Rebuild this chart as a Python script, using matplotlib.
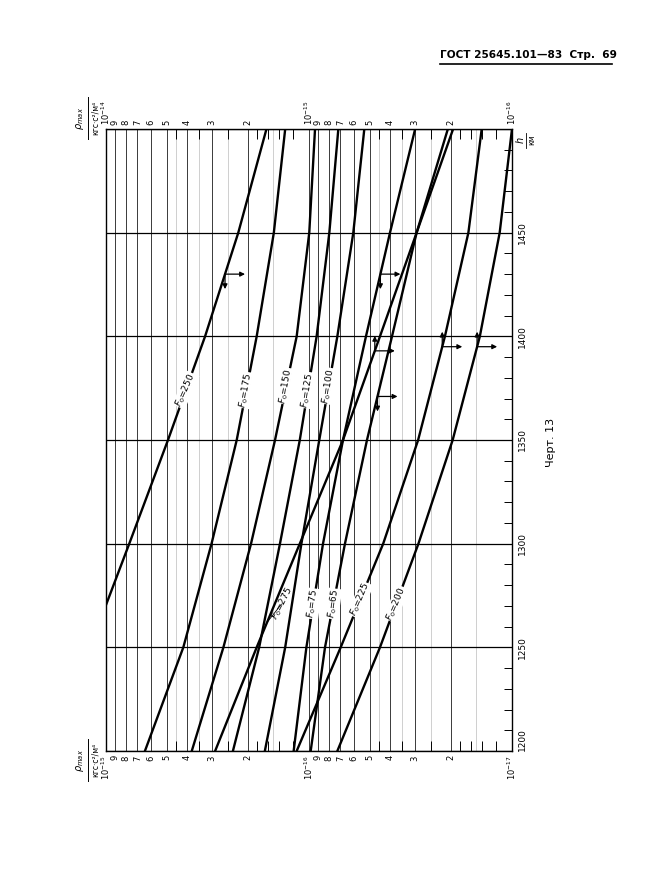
import numpy as np
import matplotlib
matplotlib.use('Agg')
import matplotlib.pyplot as plt
from matplotlib.ticker import FixedLocator, MultipleLocator, NullLocator, NullFormatter
from matplotlib.transforms import offset_copy
from matplotlib.lines import Line2D

plt.rcParams['font.family'] = ['DejaVu Sans']
plt.rcParams['mathtext.fontset'] = 'dejavusans'

# heights, km
h_km = [1200, 1250, 1300, 1350, 1400, 1450, 1500]

# rho_max read on the upper scale (10^-14 ... 10^-16), in units of 1e-15
rho_250 = [19.0, 12.0, 7.68, 4.95, 3.25, 2.23, 1.62]
rho_175 = [6.43, 4.16, 3.02, 2.27, 1.81, 1.49, 1.31]
rho_150 = [3.78, 2.64, 1.93, 1.47, 1.15, 0.997, 0.934]
rho_125 = [2.37, 1.76, 1.39, 1.11, 0.917, 0.794, 0.717]
rho_100 = [1.65, 1.31, 1.09, 0.890, 0.725, 0.605, 0.534]
rho_275 = [2.90, 1.81, 1.11, 0.680, 0.447, 0.295, 0.195]
rho_75 = [1.19, 1.03, 0.853, 0.680, 0.524, 0.399, 0.300]
rho_65 = [0.981, 0.834, 0.665, 0.518, 0.390, 0.295, 0.207]
rho_225 = [1.15, 0.698, 0.431, 0.290, 0.214, 0.164, 0.141]
rho_200 = [0.725, 0.447, 0.289, 0.196, 0.144, 0.115, 0.100]

f0_values = [250, 175, 150, 125, 100, 275, 75, 65, 225, 200]
rho_curves = [rho_250, rho_175, rho_150, rho_125, rho_100,
              rho_275, rho_75, rho_65, rho_225, rho_200]

# where the F0 labels sit on each curve (height) and their angle
label_h = [1374, 1374, 1376, 1374, 1376, 1262, 1271, 1271, 1273, 1271]
label_rot = [66, 80, 80, 81, 81, 63, 82, 82, 67, 67]

# scale-pointer arrows: curve, height, vertical direction (+1 up, -1 down)
arrow_f0 = [250, 75, 275, 65, 225, 200]
arrow_h = [1430, 1430, 1393, 1371, 1395, 1395]
arrow_vert = [-1, -1, 1, -1, 1, 1]

W, H = 651, 894


def px(x, y):
    return x / W, 1 - y / H


def on_curve(f0, h):
    rho = np.array(rho_curves[f0_values.index(f0)]) * 1e-15
    return 10 ** np.interp(h, h_km, np.log10(rho))


fig = plt.figure(figsize=(W / 100, H / 100), dpi=100)
ax = fig.add_axes([106 / W, 1 - 751 / H, 406 / W, 622 / H])

ax.set_xscale('log')
ax.set_xlim(1e-14, 1e-16)
ax.set_ylim(1200, 1500)

for f0, rho in zip(f0_values, rho_curves):
    ax.plot(np.array(rho) * 1e-15, h_km, color='black', lw=1.7, zorder=3)

# log scale ticks, two scales (upper and lower edge)
major_pos = [1e-14] + [m * 1e-15 for m in range(9, 1, -1)] + [1e-15] \
    + [m * 1e-16 for m in range(9, 1, -1)] + [1e-16]
digits = [str(m) for m in range(9, 1, -1)]
top_labels = ['$10^{-14}$'] + digits + ['$10^{-15}$'] + digits + ['$10^{-16}$']
bottom_labels = ['$10^{-15}$'] + digits + ['$10^{-16}$'] + digits + ['$10^{-17}$']

ax.set_xticks(major_pos, bottom_labels)
ax.tick_params(axis='x', which='major', length=0, labelsize=6, rotation=90, pad=3)
minor_pos = [m * 10.0 ** e for e in (-15, -16) for m in (1.2, 1.4, 1.6, 1.8, 2.5, 3.5, 4.5)]
ax.xaxis.set_minor_locator(FixedLocator(minor_pos))
ax.xaxis.set_minor_formatter(NullFormatter())
ax.tick_params(axis='x', which='minor', direction='in', length=7, width=0.7,
               top=True, bottom=True)

secax = ax.secondary_xaxis('top')
secax.set_xticks(major_pos, top_labels)
secax.xaxis.set_minor_locator(NullLocator())
secax.tick_params(length=0, labelsize=6, rotation=90, pad=3)

for m in (1.5, 2.5, 3.5, 4.5):
    for e in (-15, -16):
        ax.axvline(m * 10.0 ** e, color='#c8c8c8', lw=0.6, zorder=1)

ax.grid(True, which='major', axis='x', color='#3a3a3a', lw=0.7, zorder=2)
ax.set_yticks(h_km, ['1200', '1250', '1300', '1350', '1400', '1450', ''])
ax.yaxis.set_minor_locator(MultipleLocator(10))
ax.grid(True, which='major', axis='y', color='black', lw=0.9)
ax.tick_params(axis='y', which='both', direction='in', left=False, right=True,
               labelleft=False, labelright=True, length=6, width=0.7,
               labelsize=6.5, pad=4)
for i, lbl in enumerate(ax.get_yticklabels()):
    lbl.set_rotation(90)
    lbl.set_va('bottom' if i == 0 else 'center')
for sp in ax.spines.values():
    sp.set_linewidth(1.0)
for sp in secax.spines.values():
    sp.set_visible(False)

# curve labels
for f0, lh, rot in zip(f0_values, label_h, label_rot):
    lx = on_curve(f0, lh)
    if f0 == 275:
        ax.annotate('$F_0$=275', xy=(lx, lh), xytext=(11, 14), textcoords='offset points',
                    rotation=rot, ha='center', va='center', fontsize=6.5,
                    arrowprops=dict(arrowstyle='-', lw=0.6, color='black', shrinkA=1, shrinkB=0),
                    zorder=4)
    else:
        ax.text(lx, lh, f'$F_0$={f0}', rotation=rot, rotation_mode='anchor',
                ha='center', va='center', fontsize=6.5, zorder=4,
                bbox=dict(fc='white', ec='none', pad=0.4))

# arrows telling which scale a curve uses
arrow_style = dict(arrowstyle='-|>', lw=0.9, color='black', mutation_scale=7,
                   shrinkA=0, shrinkB=0)
for f0, ah, av in zip(arrow_f0, arrow_h, arrow_vert):
    ax_r = on_curve(f0, ah)
    tr_right = offset_copy(ax.transData, fig=fig, x=20, y=0, units='dots')
    ax.annotate('', xy=(ax_r, ah), xycoords=tr_right, xytext=(ax_r, ah),
                textcoords='data', arrowprops=arrow_style, zorder=5)
    tr_vert = offset_copy(ax.transData, fig=fig, x=0, y=15 * av, units='dots')
    ax.annotate('', xy=(ax_r, ah), xycoords=tr_vert, xytext=(ax_r, ah),
                textcoords='data', arrowprops=arrow_style, zorder=5)

# axis titles
for yc in (118, 760):
    fig.text(*px(80, yc), r'$\rho_{max}$', rotation=90, fontsize=7, ha='center', va='center')
    fig.add_artist(Line2D([88 / W, 88 / W], [1 - (yc - 21) / H, 1 - (yc + 21) / H],
                          color='black', lw=0.7))
    fig.text(*px(95, yc), 'кгс·с²/м⁴', rotation=90, fontsize=5.5, ha='center', va='center')

fig.text(*px(520, 140), '$h$', rotation=90, fontsize=7, ha='center', va='center')
fig.add_artist(Line2D([526 / W, 526 / W], [1 - 133 / H, 1 - 148 / H], color='black', lw=0.6))
fig.text(*px(532, 140), 'км', rotation=90, fontsize=5.5, ha='center', va='center')

# page header and drawing number
fig.text(*px(440, 55), 'ГОСТ 25645.101—83  Стр.  69', fontsize=7.6, fontweight='bold',
         ha='left', va='center')
fig.add_artist(Line2D([440 / W, 612 / W], [1 - 64 / H, 1 - 64 / H], color='black', lw=1.2))
fig.text(*px(551, 442), 'Черт. 13', rotation=90, fontsize=8, ha='center', va='center')

fig.savefig('out.png', dpi=100)
